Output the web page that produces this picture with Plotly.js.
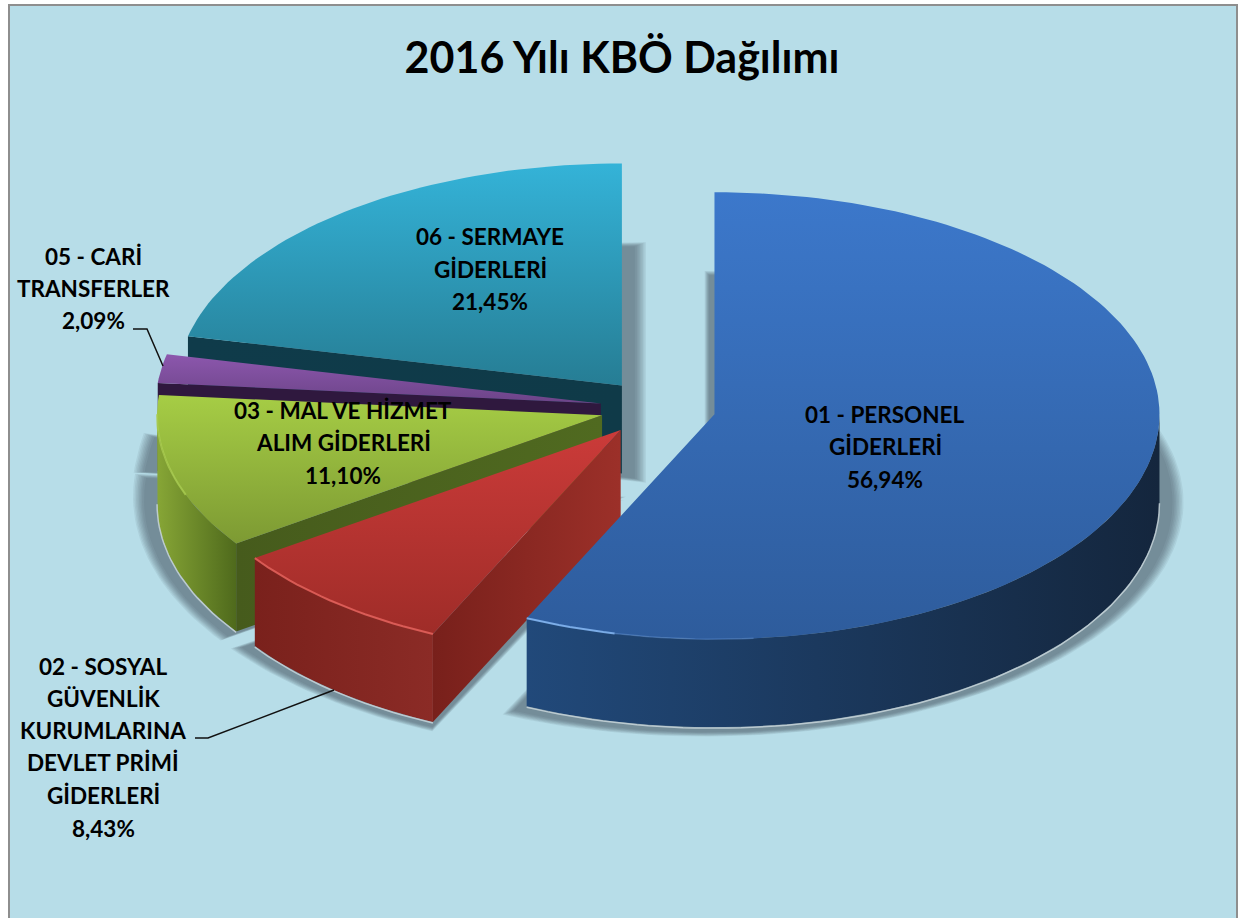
<!DOCTYPE html>
<html>
<head>
<meta charset="utf-8">
<script src="https://cdn.plot.ly/plotly-3.0.1.min.js"></script>
<style>html,body{margin:0;padding:0;background:#fff}#chart{width:1238px;height:918px}</style>
</head>
<body>
<div id="chart"></div>
<script>
const titleText = "2016 Yılı KBÖ Dağılımı";
const categories = ["01 - PERSONEL GİDERLERİ", "02 - SOSYAL GÜVENLİK KURUMLARINA DEVLET PRİMİ GİDERLERİ", "03 - MAL VE HİZMET ALIM GİDERLERİ", "05 - CARİ TRANSFERLER", "06 - SERMAYE GİDERLERİ"];
const shares = [56.94, 8.43, 11.10, 2.09, 21.45];
const shareLabels = ["56,94%", "8,43%", "11,10%", "2,09%", "21,45%"];
const labelLines = [
  ["01 - PERSONEL", "GİDERLERİ"],
  ["02 - SOSYAL", "GÜVENLİK", "KURUMLARINA", "DEVLET PRİMİ", "GİDERLERİ"],
  ["03 - MAL VE HİZMET", "ALIM GİDERLERİ"],
  ["05 - CARİ", "TRANSFERLER"],
  ["06 - SERMAYE", "GİDERLERİ"]
];
const labelX = [885, 103, 343, 93, 490];
const labelY = [[414, 446, 479], [666, 698, 730, 762, 795, 828], [410, 442, 475], [256, 288, 320], [236, 269, 301]];
const topColors = [["#2e5c9c", "#3c78cb"], ["#9f2c28", "#cb3b39"], ["#7d9a33", "#a6cd45"], ["#6c4488", "#8c57ad"], ["#267d94", "#34b3d8"]];
const arcWallColors = [["#21497a", "#14263d"], ["#7a211c", "#8b2b26"], ["#87a636", "#4f6a1c"], ["#6c4488", "#6c4488"], ["#1d6075", "#1d6075"]];
const edgeWallColors = [["#1f4777", "#1f4777"], ["#78201b", "#9c3029"], ["#465b1c", "#506a20"], ["#2f183e", "#2f183e"], ["#0f3b4a", "#0f3a48"]];

const cx = 658, cy = 408, rx = 445, ryBack = 222, ryFront = 225, depth = 88, explode = 0.13;
const rad = d => d * Math.PI / 180;
const total = shares.reduce((a, b) => a + b, 0);
let acc = 0;
const slices = shares.map((v, i) => {
  const a = acc / total * 360; acc += v; const b = acc / total * 360; const m = (a + b) / 2;
  return { i, a, b, ax: cx + explode * rx * Math.sin(rad(m)), ay: cy - explode * ryBack * Math.cos(rad(m)) };
});
const px = (s, t) => s.ax + rx * Math.sin(rad(t));
const py = (s, t) => { const c = Math.cos(rad(t)); return s.ay - (c > 0 ? ryBack : ryFront) * c; };
function arc(s, a, b, dy) {
  const n = Math.max(2, Math.ceil(Math.abs(b - a) / 1.5)), xs = [], ys = [];
  for (let k = 0; k <= n; k++) { const t = a + (b - a) * k / n; xs.push(px(s, t)); ys.push(py(s, t) + (dy || 0)); }
  return { xs, ys };
}
const grad = (type, c) => ({ type, colorscale: [[0, c[0]], [1, c[1]]] });
const base = { type: "scatter", mode: "lines", showlegend: false, hoverinfo: "skip" };
const poly = (xs, ys, extra) => Object.assign({}, base, { x: xs, y: ys, fill: "toself", line: { width: 0 } }, extra);
const traces = [];

// soft drop shadows
[24, 22.5, 21, 19.5, 18, 16.5, 15, 13].forEach(o => {
  slices.forEach(s => {
    const c = arc(s, s.a, s.b, depth);
    const xs = [s.ax, ...c.xs, s.ax], ys = [s.ay + depth, ...c.ys, s.ay + depth];
    const x0 = Math.min(...xs), x1 = Math.max(...xs), y0 = Math.min(...ys), y1 = Math.max(...ys);
    const mx = (x0 + x1) / 2, my = (y0 + y1) / 2, hw = (x1 - x0) / 2, hh = (y1 - y0) / 2;
    const oy = o / 2.6;
    traces.push(poly(xs.map(x => mx + (x - mx) * (hw + o) / hw), ys.map(y => my + (y - my) * (hh + oy) / hh),
      { fillcolor: "rgba(60,75,85,0.085)" }));
  });
});

// back to front
[4, 3, 2, 1, 0].forEach(idx => {
  const s = slices[idx];
  if (idx !== 0) {
    const ex = px(s, s.a), ey = py(s, s.a);
    traces.push(poly([s.ax, ex, ex, s.ax, s.ax], [s.ay, ey, ey + depth, s.ay + depth, s.ay],
      { fillgradient: grad("horizontal", edgeWallColors[idx]) }));
  }
  const a = Math.max(s.a, 90), b = Math.min(s.b, 270);
  if (b > a) {
    const up = arc(s, a, b, 0), lo = arc(s, b, a, depth);
    traces.push(poly([...up.xs, ...lo.xs, up.xs[0]], [...up.ys, ...lo.ys, up.ys[0]],
      { fillgradient: grad("horizontal", arcWallColors[idx]) }));
    const rim = arc(s, a, b, depth + 1);
    traces.push(Object.assign({}, base, { x: rim.xs, y: rim.ys, line: { color: "rgba(205,218,222,0.8)", width: 1.5 } }));
  }
  const c = arc(s, s.a, s.b, 0);
  traces.push(poly([s.ax, ...c.xs, s.ax], [s.ay, ...c.ys, s.ay], { fillgradient: grad("vertical", topColors[idx]) }));
});

// light bevel highlights along the rims
const bevel = (idx, a, b, color, w) => { const c = arc(slices[idx], a, b, 0); traces.push(Object.assign({}, base, { x: c.xs, y: c.ys, line: { color, width: w } })); };
bevel(0, slices[0].b, slices[0].b - 12, "rgba(130,180,240,0.9)", 2);
bevel(0, slices[0].b - 12, slices[0].b - 30, "rgba(100,150,220,0.4)", 1.5);
bevel(1, slices[1].a, slices[1].b, "rgba(225,95,90,0.9)", 2);
bevel(2, slices[2].b - 5, slices[2].a + 14, "rgba(170,205,80,0.8)", 2);

const annotations = [];
labelLines.forEach((lines, i) => {
  [...lines, shareLabels[i]].forEach((txt, k) => {
    annotations.push({ x: labelX[i], y: labelY[i][k], xref: "x", yref: "y", text: txt, showarrow: false,
      xanchor: "center", yanchor: "middle", font: { family: "Lato, 'Open Sans', sans-serif", size: 22.5, color: "#000", weight: 700 } });
  });
});

const layout = {
  width: 1238, height: 918, margin: { l: 0, r: 0, t: 0, b: 0 },
  paper_bgcolor: "#ffffff", plot_bgcolor: "rgba(0,0,0,0)",
  title: { text: "<b>" + titleText + "</b>", x: 622 / 1238, xanchor: "center", y: 1 - 58 / 918, yanchor: "middle",
    font: { family: "Lato, 'Open Sans', sans-serif", size: 43, color: "#000" } },
  xaxis: { range: [0, 1238], visible: false, fixedrange: true },
  yaxis: { range: [918, 0], visible: false, fixedrange: true },
  shapes: [
    { type: "rect", layer: "below", xref: "x", yref: "y", x0: 9, y0: 5, x1: 1237, y1: 930, fillcolor: "#b7dde8", line: { color: "#8e8e8e", width: 2 } },
    { type: "path", layer: "above", xref: "x", yref: "y", path: "M133,329 L147,329 L163,366", line: { color: "#111", width: 1.5 } },
    { type: "path", layer: "above", xref: "x", yref: "y", path: "M195,738 L208,738 L334,690", line: { color: "#111", width: 1.5 } }
  ],
  annotations
};
Plotly.newPlot("chart", traces, layout, { displayModeBar: false, staticPlot: true });
</script>
</body>
</html>
